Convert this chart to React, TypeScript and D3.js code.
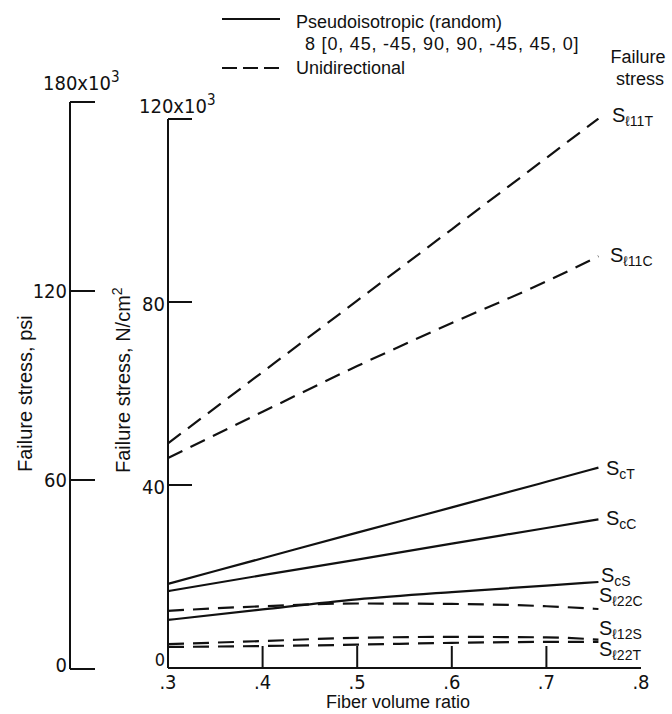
import React from "react";
import * as d3 from "d3";

const fiberRatio = [0.3, 0.4, 0.5, 0.6, 0.7, 0.755];
const xTicks = [0.3, 0.4, 0.5, 0.6, 0.7, 0.8];
const xTickLabels = [".3", ".4", ".5", ".6", ".7", ".8"];
const nTicks = [0, 40, 80, 120];
const psiTicks = [0, 60, 120, 180];

// failure stress, N/cm^2 x10^3
const sCT = [18.4, 24.0, 29.6, 35.1, 40.7, 43.8];
const sCC = [16.8, 20.3, 23.7, 27.2, 30.6, 32.5];
const sCS = [10.5, 12.8, 15.0, 16.6, 18.0, 18.8];
const sL11T = [49.1, 64.7, 80.3, 95.9, 111.5, 120.1];
const sL11C = [45.9, 56.0, 66.0, 75.4, 84.5, 90.0];
const sL22C = [12.5, 13.5, 14.1, 14.0, 13.5, 12.9];
const sL12S = [5.2, 5.9, 6.6, 6.8, 6.7, 6.2];
const sL22T = [4.6, 4.8, 5.1, 5.5, 5.7, 5.7];

const seriesNames = ["cT", "cC", "cS", "ℓ11T", "ℓ11C", "ℓ22C", "ℓ12S", "ℓ22T"];
const seriesValues = [sCT, sCC, sCS, sL11T, sL11C, sL22C, sL12S, sL22T];
const seriesDashed = [false, false, false, true, true, true, true, true];

const SANS = "'Liberation Sans', Arial, sans-serif";
const NARROW = "'Liberation Sans Narrow', 'DejaVu Sans Condensed', sans-serif";

export default function App() {
  const x = d3.scaleLinear().domain([0.3, 0.8]).range([168, 641]);
  const y = d3.scaleLinear().domain([0, 120]).range([668, 119]);
  const yPsi = d3.scaleLinear().domain([0, 180]).range([669, 102]);
  const line = d3
    .line<number>()
    .x((_, i) => x(fiberRatio[i]))
    .y((d) => y(d))
    .curve(d3.curveMonotoneX);

  const labelPos: Record<string, [number, number]> = {
    cT: [606, 475],
    cC: [606, 525],
    cS: [601, 582],
    "ℓ11T": [612, 122],
    "ℓ11C": [610, 262],
    "ℓ22C": [599, 602],
    "ℓ12S": [599, 635],
    "ℓ22T": [599, 656],
  };

  return (
    <svg
      width={672}
      height={714}
      style={{ position: "absolute", left: 0, top: 0, background: "#fff" }}
    >
      {/* legend */}
      <line x1={222} x2={280} y1={19} y2={19} stroke="#111" strokeWidth={2} />
      <text x={296} y={28} fontFamily={SANS} fontSize={18} fill="#111">
        Pseudoisotropic (random)
      </text>
      <text x={305} y={50} fontFamily={SANS} fontSize={18} letterSpacing={0.8} fill="#111">
        8 [0, 45, -45, 90, 90, -45, 45, 0]
      </text>
      <line x1={222} x2={280} y1={68} y2={68} stroke="#111" strokeWidth={2} strokeDasharray="15 6" />
      <text x={296} y={74} fontFamily={SANS} fontSize={18} fill="#111">
        Unidirectional
      </text>
      <text x={638} y={63} textAnchor="middle" fontFamily={SANS} fontSize={18} fill="#111">
        Failure
      </text>
      <text x={640} y={85} textAnchor="middle" fontFamily={SANS} fontSize={18} fill="#111">
        stress
      </text>

      {/* psi axis */}
      <line x1={70} x2={70} y1={yPsi(180)} y2={yPsi(0)} stroke="#111" strokeWidth={2} />
      {psiTicks.map((t) => (
        <g key={"p" + t}>
          <line x1={70} x2={95} y1={yPsi(t)} y2={yPsi(t)} stroke="#111" strokeWidth={2} />
          {t < 180 && (
            <text x={67} y={yPsi(t) - (t === 0 ? 4 : 0)} dy="0.35em" textAnchor="end" fontFamily={NARROW} fontSize={20} fill="#111">
              {t}
            </text>
          )}
        </g>
      ))}
      <text x={43} y={90} fontFamily={NARROW} fontSize={20} fill="#111">
        180x10<tspan dy={-8} fontSize={15}>3</tspan>
      </text>
      <text transform="translate(32,472) rotate(-90)" fontFamily={SANS} fontSize={20} fill="#111">
        Failure stress, psi
      </text>

      {/* N/cm2 axis */}
      <line x1={168} x2={168} y1={y(120)} y2={y(0)} stroke="#111" strokeWidth={2} />
      {nTicks.map((t) => (
        <g key={"n" + t}>
          {t > 0 && <line x1={168} x2={192} y1={y(t)} y2={y(t)} stroke="#111" strokeWidth={2} />}
          {t < 120 && (
            <text x={165} y={y(t) - (t === 0 ? 8 : -2)} dy="0.35em" textAnchor="end" fontFamily={NARROW} fontSize={t === 0 ? 18 : 20} fill="#111">
              {t}
            </text>
          )}
        </g>
      ))}
      <text x={139} y={113} fontFamily={NARROW} fontSize={20} fill="#111">
        120x10<tspan dy={-8} fontSize={15}>3</tspan>
      </text>
      <text transform="translate(130,473) rotate(-90)" fontFamily={SANS} fontSize={20} fill="#111">
        Failure stress, N/cm<tspan dy={-8} fontSize={14}>2</tspan>
      </text>

      {/* x axis */}
      <line x1={168} x2={641} y1={y(0)} y2={y(0)} stroke="#111" strokeWidth={2} />
      {xTicks.map((t, i) => (
        <g key={"x" + t}>
          {i > 0 && i < xTicks.length - 1 && (
            <line x1={x(t)} x2={x(t)} y1={y(0)} y2={y(0) - 22} stroke="#111" strokeWidth={2} />
          )}
          <text x={x(t)} y={689} textAnchor="middle" fontFamily={NARROW} fontSize={20} fill="#111">
            {xTickLabels[i]}
          </text>
        </g>
      ))}
      <text x={398} y={708} textAnchor="middle" fontFamily={SANS} fontSize={18} fill="#111">
        Fiber volume ratio
      </text>

      {/* series */}
      {seriesValues.map((vals, i) => (
        <path
          key={"s" + i}
          d={line(vals) || ""}
          fill="none"
          stroke="#111"
          strokeWidth={2.2}
          strokeDasharray={seriesDashed[i] ? "16 9" : undefined}
        />
      ))}
      {seriesNames.map((n) => (
        <text key={"l" + n} x={labelPos[n][0]} y={labelPos[n][1]} fontFamily={SANS} fontSize={20} fill="#111">
          S<tspan dy={4} fontSize={14}>{n}</tspan>
        </text>
      ))}
    </svg>
  );
}
